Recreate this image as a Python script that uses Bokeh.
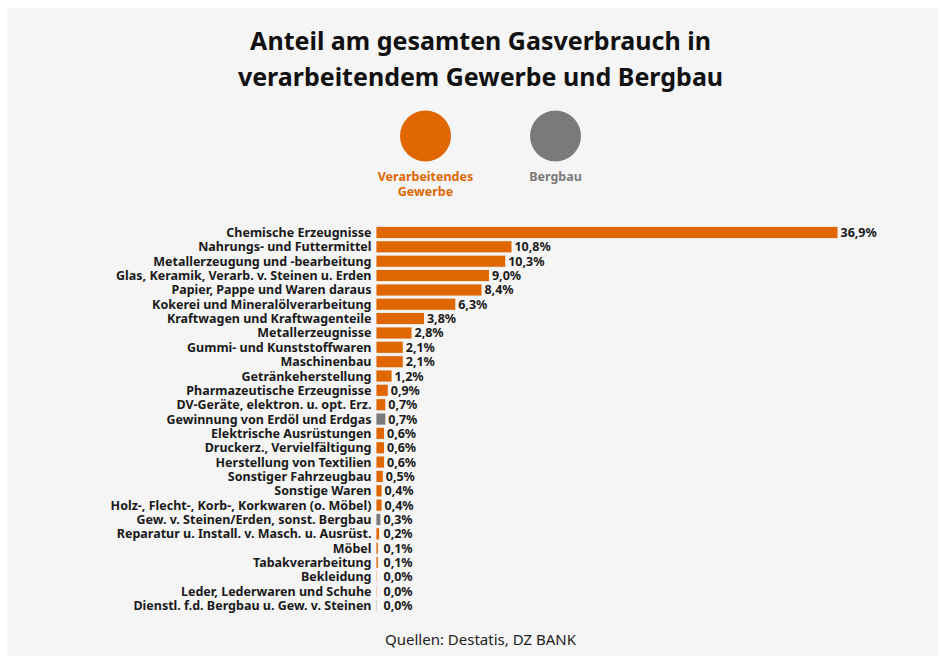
import numpy as np
from bokeh.plotting import figure
from bokeh.models import Range1d, ColumnDataSource, Label
from bokeh.core.properties import value
from bokeh.embed import file_html
from bokeh.resources import INLINE

# ---------------- data ----------------
categories = [
    "Chemische Erzeugnisse",
    "Nahrungs- und Futtermittel",
    "Metallerzeugung und -bearbeitung",
    "Glas, Keramik, Verarb. v. Steinen u. Erden",
    "Papier, Pappe und Waren daraus",
    "Kokerei und Mineralölverarbeitung",
    "Kraftwagen und Kraftwagenteile",
    "Metallerzeugnisse",
    "Gummi- und Kunststoffwaren",
    "Maschinenbau",
    "Getränkeherstellung",
    "Pharmazeutische Erzeugnisse",
    "DV-Geräte, elektron. u. opt. Erz.",
    "Gewinnung von Erdöl und Erdgas",
    "Elektrische Ausrüstungen",
    "Druckerz., Vervielfältigung",
    "Herstellung von Textilien",
    "Sonstiger Fahrzeugbau",
    "Sonstige Waren",
    "Holz-, Flecht-, Korb-, Korkwaren (o. Möbel)",
    "Gew. v. Steinen/Erden, sonst. Bergbau",
    "Reparatur u. Install. v. Masch. u. Ausrüst.",
    "Möbel",
    "Tabakverarbeitung",
    "Bekleidung",
    "Leder, Lederwaren und Schuhe",
    "Dienstl. f.d. Bergbau u. Gew. v. Steinen",
]
values = [36.9, 10.8, 10.3, 9.0, 8.4, 6.3, 3.8, 2.8, 2.1, 2.1, 1.2, 0.9, 0.7, 0.7,
          0.6, 0.6, 0.6, 0.5, 0.4, 0.4, 0.3, 0.2, 0.1, 0.1, 0.0, 0.0, 0.0]
sector = ["V", "V", "V", "V", "V", "V", "V", "V", "V", "V", "V", "V", "V", "B",
          "V", "V", "V", "V", "V", "V", "B", "V", "V", "V", "V", "V", "B"]
series_names = {"V": "Verarbeitendes\nGewerbe", "B": "Bergbau"}
title_lines = ["Anteil am gesamten Gasverbrauch in", "verarbeitendem Gewerbe und Bergbau"]
source_note = "Quellen: Destatis, DZ BANK"

# ---------------- styles ----------------
ORANGE = "#E06600"
GREY = "#7a7a7a"
BG = "#f5f5f5"
FONT = "Noto Sans"
colors = {"V": ORANGE, "B": GREY}

PAD_L, PAD_T = 7, 7
FW, FH = 931, 649          # grey panel size
# layout (page pixel geometry of the panel)
ZERO_X = 376.0             # page x of the zero line
PX_PER_PCT = 12.493
FIRST_Y = 232.0            # page y of first bar centre
ROW_PX = 14.35

def sx(page_x):
    return (page_x - ZERO_X) / PX_PER_PCT

def sy(page_y):
    return (page_y - FIRST_Y) / ROW_PX

x_range = Range1d(sx(PAD_L), sx(PAD_L + FW))
y_range = Range1d(sy(PAD_T + FH), sy(PAD_T))

p = figure(width=PAD_L + FW, height=PAD_T + FH, x_range=x_range, y_range=y_range,
           output_backend="svg", toolbar_location=None,
           x_axis_location=None, y_axis_location=None,
           min_border=0, min_border_left=PAD_L, min_border_right=0,
           min_border_top=PAD_T, min_border_bottom=0)
p.background_fill_color = BG
p.border_fill_color = "white"
p.outline_line_color = None
p.xgrid.visible = False
p.ygrid.visible = False

idx = np.arange(len(categories))
vals = np.array(values)
src = ColumnDataSource(dict(
    y=idx, v=vals, cat=categories,
    color=[colors[s] for s in sector],
    lab=[f"{v:.1f}".replace(".", ",") + "%" for v in values],
    lx=np.maximum(vals, 0.32),
))

p.hbar(y="y", left=0, right="v", height=0.77, source=src,
       fill_color="color", line_color="color", line_alpha=0.15, line_width=1)

p.text(x=0, y="y", text="cat", source=src, x_offset=-5,
       text_align="right", text_baseline="middle",
       text_font=value(FONT), text_font_size="12.5px", text_font_style="bold",
       text_color="#1a1a1a")
p.text(x="lx", y="y", text="lab", source=src, x_offset=3,
       text_align="left", text_baseline="middle",
       text_font=value(FONT), text_font_size="12.5px", text_font_style="bold",
       text_color="#1a1a1a")

# title
for line, cy in zip(title_lines, [39.5, 75.5]):
    p.add_layout(Label(x=sx(480), y=sy(cy), text=line, text_align="center",
                       text_baseline="middle", text_font=FONT,
                       text_font_size="25px", text_font_style="bold",
                       text_color="#111111"))

# legend
legend_keys = ["V", "B"]
legend_x = [425, 555]
p.scatter(x=[sx(px) for px in legend_x], y=[sy(135.5)] * 2, size=51,
          marker="circle", fill_color=[colors[k] for k in legend_keys],
          line_color=None)
for k, px in zip(legend_keys, legend_x):
    for j, part in enumerate(series_names[k].split("\n")):
        p.add_layout(Label(x=sx(px), y=sy(175.5 + 15 * j), text=part,
                           text_align="center", text_baseline="middle",
                           text_font=FONT, text_font_size="12.5px",
                           text_font_style="bold", text_color=colors[k]))

# source note
p.add_layout(Label(x=sx(480), y=sy(638), text=source_note, text_align="center",
                   text_baseline="middle", text_font=FONT, text_font_size="15px",
                   text_color="#222222"))

open("out.html", "w").write(file_html(p, INLINE))
